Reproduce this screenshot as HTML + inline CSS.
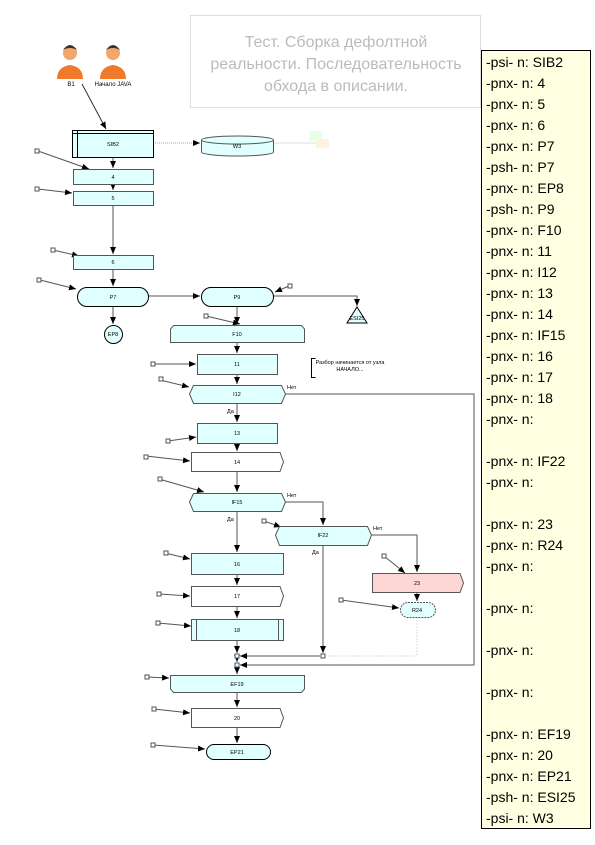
<!DOCTYPE html>
<html><head><meta charset="utf-8"><style>
body{margin:0;width:595px;height:845px;background:#fff;position:relative;overflow:hidden;font-family:"Liberation Sans","DejaVu Sans",sans-serif}
#panel{position:absolute;left:481px;top:50px;width:110px;height:779px;background:#ffffe1;border:1px solid #000;font-size:14px;line-height:21px;padding:1px 0 0 4px;box-sizing:border-box;color:#000;white-space:pre}
svg text{font-family:"Liberation Sans",sans-serif}
</style></head><body>
<svg width="595" height="845" style="position:absolute;left:0;top:0">
<defs><marker id="a" markerWidth="8" markerHeight="8" refX="7" refY="4" orient="auto" markerUnits="userSpaceOnUse"><path d="M0,1 L7,4 L0,7 Z" fill="#000"/></marker></defs>
<rect x="190.5" y="15.5" width="290" height="92" fill="#fff" stroke="#ddd"/>
<g fill="#bbb" font-size="16" text-anchor="middle"><text x="336" y="47">Тест. Сборка дефолтной</text><text x="336" y="69">реальности. Последовательность</text><text x="336" y="91">обхода в описании.</text></g>
<g><circle cx="70" cy="53" r="7" fill="#f4a66a"/><path d="M63,50 q7,-10 14,0 q-7,-4 -14,0z" fill="#333"/><path d="M57,79 q0,-12 13,-14 q13,2 13,14z" fill="#f07a2a"/>
<circle cx="113" cy="53" r="7" fill="#f4a66a"/><path d="M106,50 q7,-10 14,0 q-7,-4 -14,0z" fill="#333"/><path d="M100,79 q0,-12 13,-14 q13,2 13,14z" fill="#f07a2a"/></g>
<g font-size="6" text-anchor="middle" fill="#000"><text x="71" y="86">B1</text><text x="113" y="86">Начало JAVA</text></g>
<g stroke="#555" fill="none" stroke-width="1" marker-end="url(#a)">
<path d="M82,84 L106,129" stroke="#333"/>
<path d="M153,143 L200,143" stroke="#aaa" stroke-dasharray="1,1"/>
<path d="M113,157 V168"/><path d="M113,184 V190"/><path d="M113,205 V254"/><path d="M113,269 V286"/><path d="M113,306 V324"/>
<path d="M148,296 H200"/><path d="M273,296 H357 V306"/><path d="M237,306 V324"/><path d="M237,342 V353"/><path d="M237,374 V384"/>
<path d="M237,403 V422"/><path d="M237,443 V451"/><path d="M237,471 V492"/><path d="M237,511 V552"/><path d="M237,574 V585"/>
<path d="M237,606 V618"/><path d="M237,640 V653"/><path d="M237,658 V662"/><path d="M237,667 V674"/><path d="M237,692 V707"/><path d="M237,727 V743"/>
<path d="M285,394 H474 V665 H240"/>
<path d="M285,502 H323 V525"/>
<path d="M371,535 H417 V572"/>
<path d="M323,545 V653"/>
<path d="M320,656 H240"/>
<path d="M417,592 V601"/>
</g>
<g fill="none">
<path d="M417,617 V656 H326" stroke="#ddd" stroke-dasharray="2,1"/>
<path d="M316,143 H273" stroke="#ddd"/>
</g>
<g stroke="#555" fill="none" marker-end="url(#a)">
<path d="M38,151 L89,169"/><path d="M38,189 L72,193"/><path d="M53,250 L79,256"/><path d="M40,280 L76,289"/><path d="M289,286 L275,292"/><path d="M206,316 L240,324"/><path d="M152,364 L196,364"/><path d="M160,380 L189,387"/><path d="M168,441 L196,437"/><path d="M146,456 L190,461"/><path d="M159,479 L204,492"/><path d="M165,553 L190,559"/><path d="M159,594 L190,596"/><path d="M158,623 L191,626"/><path d="M264,521 L281,527"/><path d="M384,556 L405,573"/><path d="M341,600 L399,608"/><path d="M147,677 L169,678"/><path d="M154,709 L190,713"/><path d="M153,745 L205,749"/>
</g>
<g fill="#fff" stroke="#456">
<rect x="35" y="149" width="4" height="4"/><rect x="35" y="187" width="4" height="4"/><rect x="51" y="248" width="4" height="4"/><rect x="37" y="278" width="4" height="4"/><rect x="288" y="284" width="4" height="4"/><rect x="204" y="314" width="4" height="4"/><rect x="151" y="362" width="4" height="4"/><rect x="159" y="377" width="4" height="4"/><rect x="166" y="439" width="4" height="4"/><rect x="144" y="455" width="4" height="4"/><rect x="158" y="477" width="4" height="4"/><rect x="164" y="551" width="4" height="4"/><rect x="157" y="592" width="4" height="4"/><rect x="156" y="621" width="4" height="4"/><rect x="262" y="519" width="4" height="4"/><rect x="382" y="554" width="4" height="4"/><rect x="339" y="598" width="4" height="4"/><rect x="145" y="675" width="4" height="4"/><rect x="152" y="707" width="4" height="4"/><rect x="151" y="743" width="4" height="4"/>
<rect x="235" y="654" width="4" height="4"/><rect x="235" y="663" width="4" height="4"/><rect x="321" y="654" width="4" height="4"/>
</g>
<g stroke="#555" fill="#e0ffff">
<rect x="72.5" y="130.5" width="81" height="27" stroke="#000"/><path d="M77.5,130.5 V157.5 M72.5,133.5 H153.5" stroke="#000"/>
<path d="M201.5,140 a36,4 0 0 1 72,0 V152 a36,4 0 0 1 -72,0 Z"/><path d="M201.5,140 a36,4 0 0 0 72,0"/>
<rect x="73.5" y="169.5" width="80" height="15"/><rect x="73.5" y="191.5" width="80" height="14"/><rect x="73.5" y="255.5" width="80" height="14"/>
<rect x="77.5" y="287.5" width="71" height="19" rx="9.5" stroke="#000"/><rect x="201.5" y="287.5" width="72" height="19" rx="9.5" stroke="#000"/>
<circle cx="113.5" cy="334.5" r="9" stroke="#000"/>
<path d="M357,307 L367,323 H347 Z" stroke="#000"/>
<path d="M173.5,325.5 H301.5 L304.5,329 V342.5 H170.5 V329 Z"/>
<rect x="197.5" y="354.5" width="80" height="20"/>
<path d="M193.5,385.5 H281.5 L285.5,394 L281.5,403.5 H193.5 L189.5,394 Z"/>
<rect x="197.5" y="423.5" width="80" height="20"/>
<path d="M191.5,452.5 H280 L283.5,462 L280,471.5 H191.5 Z" fill="#fff"/>
<path d="M193.5,493.5 H281.5 L285.5,502 L281.5,511.5 H193.5 L189.5,502 Z"/>
<path d="M279.5,526.5 H367.5 L371.5,535 L367.5,545.5 H279.5 L275.5,535 Z"/>
<rect x="191.5" y="553.5" width="92" height="21"/>
<path d="M191.5,586.5 H280 L283.5,596 L280,606.5 H191.5 Z" fill="#fff"/>
<rect x="191.5" y="619.5" width="92" height="21"/><path d="M196.5,619.5 V640.5 M278.5,619.5 V640.5"/>
<path d="M372.5,573.5 H460 L463.5,583 L460,592.5 H372.5 Z" fill="#ffd6d6"/>
<rect x="400.5" y="602.5" width="35" height="15" rx="7.5" stroke-dasharray="2,1"/>
<path d="M170.5,675.5 H304.5 V689 L301.5,692.5 H173.5 L170.5,689 Z"/>
<path d="M191.5,708.5 H280 L283.5,718 L280,727.5 H191.5 Z" fill="#fff"/>
<rect x="206.5" y="744.5" width="64" height="15" rx="7.5" stroke="#000"/>
</g>
<rect x="309" y="131" width="13" height="10" fill="#e6ffe6"/><rect x="316" y="139" width="13" height="9" fill="#fff3e0"/>
<path d="M315.5,358.5 H311.5 V377.5 H315.5" stroke="#000" fill="none"/>
<g font-size="5.5" text-anchor="middle" fill="#000">
<text x="113" y="146">SIB2</text><text x="237" y="148">W3</text><text x="113" y="179">4</text><text x="113" y="200">5</text><text x="113" y="264">6</text>
<text x="113" y="299">P7</text><text x="237" y="299">P9</text><text x="113" y="336">EP8</text><text x="357" y="320">ESI25</text>
<text x="237" y="336">F10</text><text x="237" y="366">11</text><text x="237" y="396">I12</text><text x="237" y="435">13</text><text x="237" y="464">14</text>
<text x="237" y="504">IF15</text><text x="323" y="537">IF22</text><text x="237" y="566">16</text><text x="237" y="598">17</text><text x="237" y="632">18</text>
<text x="417" y="585">23</text><text x="417" y="612">R24</text><text x="237" y="686">EF19</text><text x="237" y="720">20</text><text x="237" y="754">EP21</text>
<text x="350" y="364">Разбор начинается от узла</text><text x="350" y="371">НАЧАЛО...</text>
</g>
<g font-size="5.5" fill="#000"><text x="287" y="389">Нет</text><text x="227" y="413">Да</text><text x="287" y="497">Нет</text><text x="227" y="521">Да</text><text x="373" y="530">Нет</text><text x="312" y="554">Да</text></g>
</svg>
<div id="panel">-psi- n: SIB2
-pnx- n: 4
-pnx- n: 5
-pnx- n: 6
-pnx- n: P7
-psh- n: P7
-pnx- n: EP8
-psh- n: P9
-pnx- n: F10
-pnx- n: 11
-pnx- n: I12
-pnx- n: 13
-pnx- n: 14
-pnx- n: IF15
-pnx- n: 16
-pnx- n: 17
-pnx- n: 18
-pnx- n:

-pnx- n: IF22
-pnx- n:

-pnx- n: 23
-pnx- n: R24
-pnx- n:

-pnx- n:

-pnx- n:

-pnx- n:

-pnx- n: EF19
-pnx- n: 20
-pnx- n: EP21
-psh- n: ESI25
-psi- n: W3</div>
</body></html>
